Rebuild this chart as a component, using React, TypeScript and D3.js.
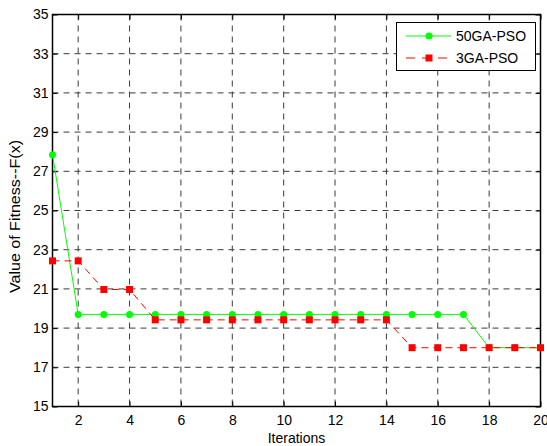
import React, { useEffect, useRef } from 'react';
import * as d3 from 'd3';

const iterations = d3.range(1, 21);
const ga50 = [27.85, 19.7, 19.7, 19.7, 19.7, 19.7, 19.7, 19.7, 19.7, 19.7, 19.7, 19.7, 19.7, 19.7, 19.7, 19.7, 19.7, 18.0, 18.0, 18.0];
const ga3 = [22.43, 22.43, 20.97, 20.97, 19.42, 19.42, 19.42, 19.42, 19.42, 19.42, 19.42, 19.42, 19.42, 19.42, 18.0, 18.0, 18.0, 18.0, 18.0, 18.0];
const xTicks = [2, 4, 6, 8, 10, 12, 14, 16, 18, 20];
const yTicks = [15, 17, 19, 21, 23, 25, 27, 29, 31, 33, 35];
const seriesNames = ['50GA-PSO', '3GA-PSO'];

export default function App() {
    const ref = useRef<SVGSVGElement>(null);

    useEffect(() => {
        const svg = d3.select(ref.current);
        svg.selectAll('*').remove();

        const left = 52.5, right = 540.5, top = 14.5, bottom = 406.5;
        const font = '"Liberation Sans", Arial, sans-serif';

        const x = d3.scaleLinear().domain([1, 20]).range([left, right]);
        const y = d3.scaleLinear().domain([15, 35]).range([bottom, top]);

        svg.append('rect').attr('width', 547).attr('height', 446).attr('fill', '#fff');

        // grid
        const grid = svg.append('g').attr('stroke', '#3a3a3a').attr('stroke-width', 1).attr('stroke-dasharray', '6,5');
        xTicks.filter((t) => t < 20).forEach((t) => {
            grid.append('line').attr('x1', x(t)).attr('x2', x(t)).attr('y1', top).attr('y2', bottom);
        });
        yTicks.filter((t) => t > 15 && t < 35).forEach((t) => {
            grid.append('line').attr('x1', left).attr('x2', right).attr('y1', y(t)).attr('y2', y(t));
        });

        // axes with inward ticks
        const axisBottom = svg.append('g').attr('transform', `translate(0,${bottom})`)
            .call(d3.axisBottom(x).tickValues(xTicks).tickSize(-5).tickPadding(9));
        const axisTop = svg.append('g').attr('transform', `translate(0,${top})`)
            .call(d3.axisTop(x).tickValues(xTicks).tickSize(-5).tickFormat(() => ''));
        const axisLeft = svg.append('g').attr('transform', `translate(${left},0)`)
            .call(d3.axisLeft(y).tickValues(yTicks).tickSize(-5).tickPadding(4));
        const axisRight = svg.append('g').attr('transform', `translate(${right},0)`)
            .call(d3.axisRight(y).tickValues(yTicks).tickSize(-5).tickFormat(() => ''));
        [axisBottom, axisTop, axisLeft, axisRight].forEach((a) => {
            a.select('.domain').remove();
            a.selectAll('line').attr('stroke', '#000');
            a.selectAll('text').attr('font-family', font).attr('font-size', 14).attr('fill', '#000');
        });

        svg.append('rect').attr('x', left).attr('y', top).attr('width', right - left).attr('height', bottom - top)
            .attr('fill', 'none').attr('stroke', '#000').attr('stroke-width', 1.5);

        // series
        const line = d3.line<number>().x((d, i) => x(iterations[i])).y((d) => y(d));
        svg.append('path').attr('d', line(ga50)).attr('fill', 'none').attr('stroke', '#00ff00').attr('stroke-width', 1);
        svg.append('g').selectAll('circle').data(ga50).enter().append('circle')
            .attr('cx', (d, i) => x(iterations[i])).attr('cy', (d) => y(d)).attr('r', 3.5).attr('fill', '#00ff00');

        svg.append('path').attr('d', line(ga3)).attr('fill', 'none').attr('stroke', '#ff0000').attr('stroke-width', 1)
            .attr('stroke-dasharray', '7,5');
        svg.append('g').selectAll('rect').data(ga3).enter().append('rect')
            .attr('x', (d, i) => x(iterations[i]) - 3.5).attr('y', (d) => y(d) - 3.5)
            .attr('width', 7).attr('height', 7).attr('fill', '#ff0000');

        // labels
        svg.append('text').attr('x', (left + right) / 2).attr('y', 443).attr('text-anchor', 'middle')
            .attr('font-family', font).attr('font-size', 14).text('Iterations');
        svg.append('text').attr('transform', `translate(20,${(top + bottom) / 2 + 6}) rotate(-90)`)
            .attr('text-anchor', 'middle').attr('font-family', font).attr('font-size', 14)
            .attr('textLength', 153).attr('lengthAdjust', 'spacingAndGlyphs')
            .text('Value of Fitness--F(x)');

        // legend
        const lg = svg.append('g');
        lg.append('rect').attr('x', 396.5).attr('y', 22.5).attr('width', 139).attr('height', 48)
            .attr('fill', '#fff').attr('stroke', '#000').attr('stroke-width', 1);
        const rows = [36, 58];
        lg.append('line').attr('x1', 406).attr('x2', 451).attr('y1', rows[0]).attr('y2', rows[0]).attr('stroke', '#00ff00');
        lg.append('circle').attr('cx', 429).attr('cy', rows[0]).attr('r', 3.5).attr('fill', '#00ff00');
        lg.append('line').attr('x1', 406).attr('x2', 451).attr('y1', rows[1]).attr('y2', rows[1]).attr('stroke', '#ff0000')
            .attr('stroke-dasharray', '9,7');
        lg.append('rect').attr('x', 425.5).attr('y', rows[1] - 3.5).attr('width', 7).attr('height', 7).attr('fill', '#ff0000');
        seriesNames.forEach((name, i) => {
            lg.append('text').attr('x', 456).attr('y', rows[i] + 5).attr('font-family', font).attr('font-size', 14).text(name);
        });
    }, []);

    return (
        <svg ref={ref} width={547} height={446} style={{ position: 'absolute', left: 0, top: 0 }} />
    );
}
